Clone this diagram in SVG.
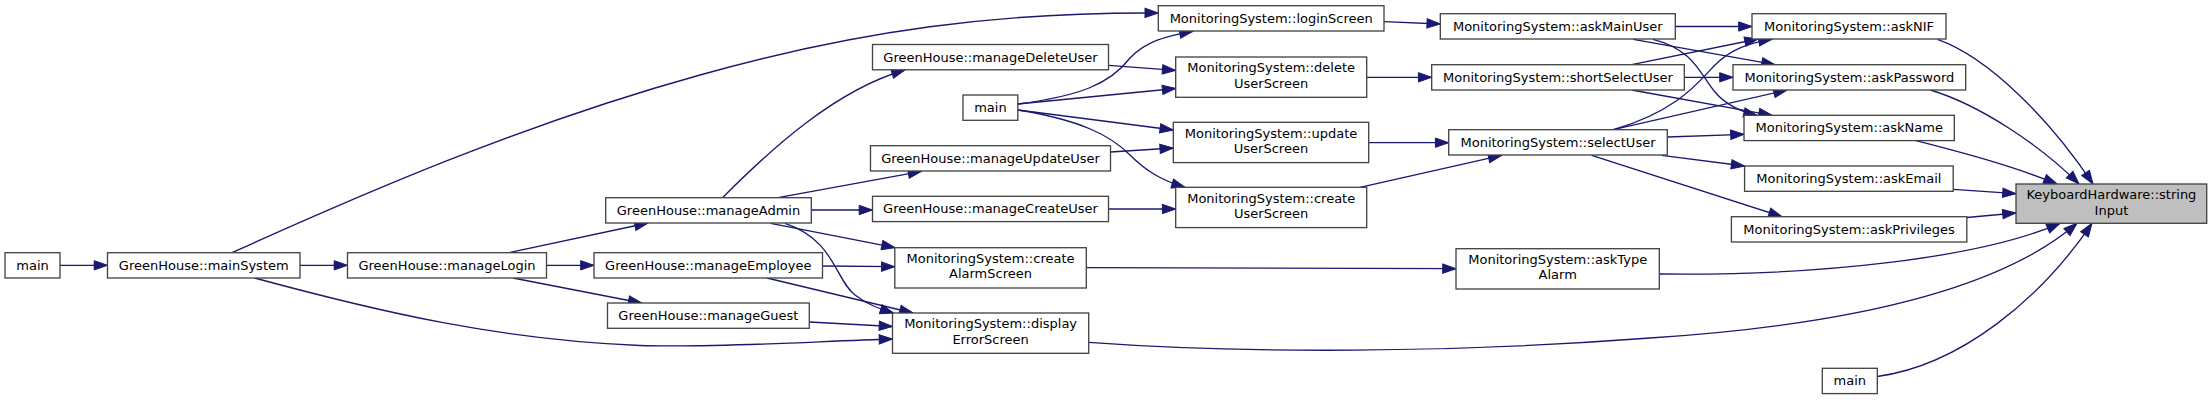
<svg xmlns="http://www.w3.org/2000/svg" width="2212" height="400" viewBox="0 0 2212 400">
<style>
.node rect{fill:#ffffff;stroke:#444444;stroke-width:1.33}
.node text{font-family:"DejaVu Sans","Liberation Sans",sans-serif;font-size:13px;text-anchor:middle;fill:#000000}
#kh rect{fill:#bfbfbf}
#edges path{fill:none;stroke:#191970;stroke-width:1.33;marker-end:url(#arr)}
</style>
<defs>
<marker id="arr" markerUnits="userSpaceOnUse" markerWidth="16" markerHeight="12" viewBox="0 0 16 12" refX="13.3" refY="6" orient="auto" overflow="visible">
<path d="M0,1.33 L13.3,6 L0,10.67 z" fill="#191970" stroke="#191970" stroke-width="1"/>
</marker>
</defs>
<rect width="2212" height="400" fill="#ffffff"/>
<g id="edges">
<path d="M60,265.3 L107.5,265.3"/>
<path d="M300,265.3 L347.5,265.3"/>
<path d="M232,252.7 C360,195 520,125 700,75 C860,30 1000,12 1158.3,13"/>
<path d="M254.6,278 C380,312 500,340 640,345.5 C720,348 820,341 892.5,339"/>
<path d="M509,252.7 L648,223"/>
<path d="M546.5,265.3 L594,265.3"/>
<path d="M513,278 L641.7,303"/>
<path d="M722.5,197.7 C770,150 835,90 905,70"/>
<path d="M778,197.7 L921.5,171.3"/>
<path d="M811.3,210 L872.5,210"/>
<path d="M770.7,223.3 L895,247.7"/>
<path d="M785,223.3 C835,240 835,280 855,295 C868,305 880,309 893.5,313"/>
<path d="M822.5,266 L894.8,266.7"/>
<path d="M767,278 L913,313"/>
<path d="M809.3,322 L892.5,326.5"/>
<path d="M1108.5,65.3 L1175.7,70.3"/>
<path d="M1017.8,104 C1080,96 1110,84 1130,58 C1145,42 1165,36 1193,31.3"/>
<path d="M1017.8,104 L1175.7,88.5"/>
<path d="M1017.8,110 L1173.3,130"/>
<path d="M1017.8,110 C1080,120 1110,135 1130,155 C1145,170 1160,180 1185,187.3"/>
<path d="M1110.5,152 L1173.3,148"/>
<path d="M1108.5,209 L1175.7,209"/>
<path d="M1384,21.7 L1440.3,24"/>
<path d="M1366.7,77.3 L1431.7,77.3"/>
<path d="M1368.7,142.7 L1448.7,142.7"/>
<path d="M1360,187.3 L1501.7,155.3"/>
<path d="M1086.3,267.7 L1456,268.7"/>
<path d="M1088.7,342.3 C1250,354 1450,353 1650,338 C1850,325 2000,290 2077,223.3"/>
<path d="M1675.3,26.5 L1752,26.5"/>
<path d="M1633.3,39.3 L1775,64.7"/>
<path d="M1653,39.3 C1695,50 1700,75 1715,92 C1725,104 1738,111 1757,115.3"/>
<path d="M1631.7,64.7 L1758,39"/>
<path d="M1684.3,77.3 L1733,77.3"/>
<path d="M1631.7,90 L1772,115.3"/>
<path d="M1613.3,129.7 C1680,110 1700,80 1715,65 C1730,50 1748,43 1772,39.3"/>
<path d="M1613.3,129.7 L1787,90"/>
<path d="M1667.3,137 L1744,134.3"/>
<path d="M1661.7,155.3 L1744.6,166"/>
<path d="M1591.7,155.3 L1782,216.7"/>
<path d="M1937.5,39.3 C1990,58 2050,120 2093,184"/>
<path d="M1930.4,90 C1980,105 2040,145 2079,184"/>
<path d="M1916,140.7 C1960,152 2010,165 2057,184"/>
<path d="M1953.2,189.3 L2016,193.7"/>
<path d="M1966.8,217.5 L2016,213"/>
<path d="M1659.3,274 C1820,276 1980,258 2060,223.3"/>
<path d="M1877.3,376.5 C1960,365 2040,300 2092,223.3"/>
</g>
<g id="main1" class="node"><rect x="5" y="252.7" width="55" height="25.3"/><text x="32.5" y="269.7">main</text></g>
<g id="mainSystem" class="node"><rect x="107.5" y="252.7" width="192.5" height="25.3"/><text x="203.75" y="269.7">GreenHouse::mainSystem</text></g>
<g id="manageLogin" class="node"><rect x="347.5" y="252.7" width="199" height="25.3"/><text x="447" y="269.7">GreenHouse::manageLogin</text></g>
<g id="manageAdmin" class="node"><rect x="605.7" y="197.7" width="205.6" height="25.3"/><text x="708.5" y="214.7">GreenHouse::manageAdmin</text></g>
<g id="manageEmployee" class="node"><rect x="594" y="252.7" width="228.5" height="25.3"/><text x="708.25" y="269.7">GreenHouse::manageEmployee</text></g>
<g id="manageGuest" class="node"><rect x="607.5" y="303" width="201.8" height="25.3"/><text x="708.4" y="320">GreenHouse::manageGuest</text></g>
<g id="manageDeleteUser" class="node"><rect x="872.5" y="44.5" width="236" height="25.3"/><text x="990.5" y="61.5">GreenHouse::manageDeleteUser</text></g>
<g id="main2" class="node"><rect x="963" y="95" width="54.8" height="25.3"/><text x="990.4" y="112">main</text></g>
<g id="manageUpdateUser" class="node"><rect x="870.5" y="145.7" width="240" height="25.3"/><text x="990.5" y="162.7">GreenHouse::manageUpdateUser</text></g>
<g id="manageCreateUser" class="node"><rect x="872.5" y="196.3" width="236" height="25.3"/><text x="990.5" y="213.3">GreenHouse::manageCreateUser</text></g>
<g id="createAlarmScreen" class="node"><rect x="894.8" y="247.7" width="191.5" height="40.3"/><text x="990.5" y="263">MonitoringSystem::create</text><text x="990.5" y="278.4">AlarmScreen</text></g>
<g id="displayErrorScreen" class="node"><rect x="892.5" y="313" width="196.2" height="40.3"/><text x="990.6" y="328.3">MonitoringSystem::display</text><text x="990.6" y="343.7">ErrorScreen</text></g>
<g id="loginScreen" class="node"><rect x="1158.3" y="5.7" width="225.7" height="25.3"/><text x="1271.2" y="22.7">MonitoringSystem::loginScreen</text></g>
<g id="deleteUserScreen" class="node"><rect x="1175.7" y="57" width="191" height="40.3"/><text x="1271.2" y="72.3">MonitoringSystem::delete</text><text x="1271.2" y="87.7">UserScreen</text></g>
<g id="updateUserScreen" class="node"><rect x="1173.3" y="122.3" width="195.4" height="40.3"/><text x="1271" y="137.6">MonitoringSystem::update</text><text x="1271" y="153">UserScreen</text></g>
<g id="createUserScreen" class="node"><rect x="1175.7" y="187.3" width="191" height="40.3"/><text x="1271.2" y="202.6">MonitoringSystem::create</text><text x="1271.2" y="218">UserScreen</text></g>
<g id="askMainUser" class="node"><rect x="1440.3" y="13.7" width="235" height="25.3"/><text x="1557.8" y="30.7">MonitoringSystem::askMainUser</text></g>
<g id="shortSelectUser" class="node"><rect x="1431.7" y="64.7" width="252.6" height="25.3"/><text x="1558" y="81.7">MonitoringSystem::shortSelectUser</text></g>
<g id="selectUser" class="node"><rect x="1448.7" y="129.7" width="218.6" height="25.3"/><text x="1558" y="146.7">MonitoringSystem::selectUser</text></g>
<g id="askTypeAlarm" class="node"><rect x="1456" y="248.7" width="203.3" height="40.3"/><text x="1557.7" y="264">MonitoringSystem::askType</text><text x="1557.7" y="279.4">Alarm</text></g>
<g id="askNIF" class="node"><rect x="1752" y="13.7" width="194" height="25.3"/><text x="1849" y="30.7">MonitoringSystem::askNIF</text></g>
<g id="askPassword" class="node"><rect x="1733" y="64.7" width="232.7" height="25.3"/><text x="1849.4" y="81.7">MonitoringSystem::askPassword</text></g>
<g id="askName" class="node"><rect x="1744" y="115.3" width="210.3" height="25.3"/><text x="1849.2" y="132.3">MonitoringSystem::askName</text></g>
<g id="askEmail" class="node"><rect x="1744.6" y="166" width="208.6" height="25.3"/><text x="1848.9" y="183">MonitoringSystem::askEmail</text></g>
<g id="askPrivileges" class="node"><rect x="1731.4" y="216.7" width="235.4" height="25.3"/><text x="1849.1" y="233.7">MonitoringSystem::askPrivileges</text></g>
<g id="kh" class="node"><rect x="2016" y="184" width="190.7" height="39.3"/><text x="2111.4" y="199.3">KeyboardHardware::string</text><text x="2111.4" y="214.7">Input</text></g>
<g id="main3" class="node"><rect x="1822.3" y="368.3" width="55" height="25.3"/><text x="1849.8" y="385.3">main</text></g>
</svg>
